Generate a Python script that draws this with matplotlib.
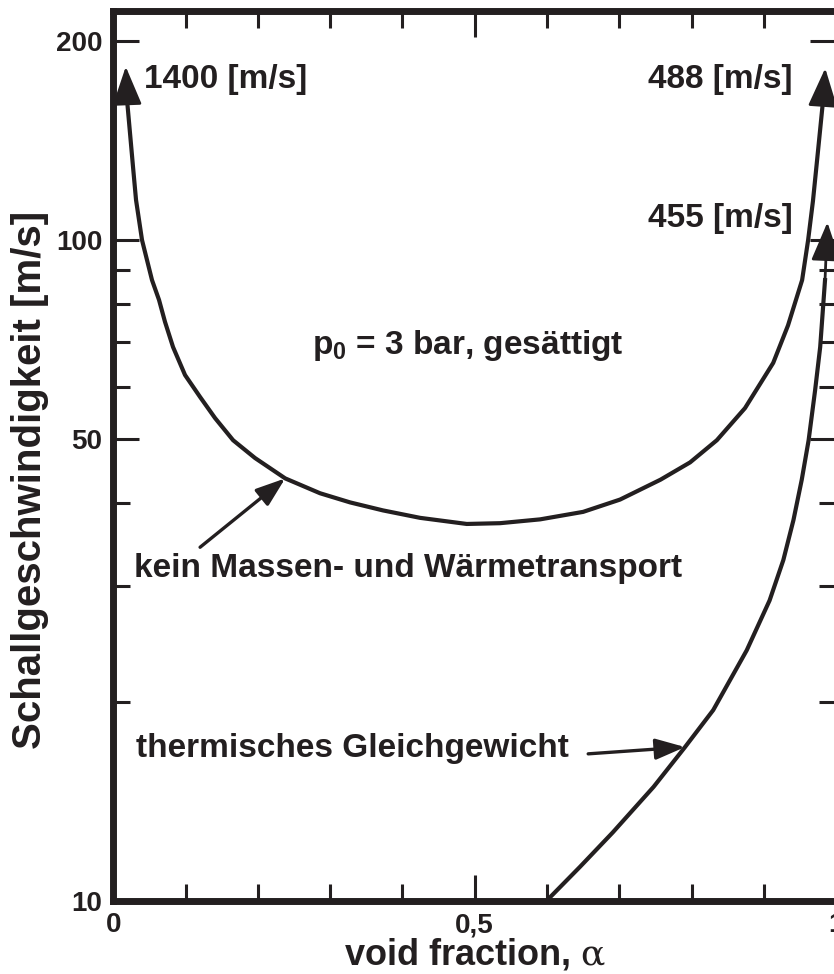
import matplotlib
matplotlib.use('Agg')
import matplotlib.pyplot as plt
from matplotlib.ticker import FixedLocator, FixedFormatter, NullFormatter

plt.rcParams['font.family'] = ['Liberation Sans', 'DejaVu Sans']
plt.rcParams['font.weight'] = 'bold'
plt.rcParams['mathtext.fontset'] = 'custom'
plt.rcParams['mathtext.rm'] = 'DejaVu Serif:weight=normal'
plt.rcParams['mathtext.bf'] = 'Liberation Sans:bold'
plt.rcParams['mathtext.it'] = 'DejaVu Serif:italic:weight=normal'

INK = '#231f20'

# kein Massen- und Wärmetransport (erster und letzter Punkt = Pfeilspitzen)
alpha_frozen = [0.0172, 0.019, 0.0273, 0.0314, 0.0397, 0.0535, 0.0632, 0.0715, 0.0826,
                0.0992, 0.120, 0.1407, 0.1657, 0.1961, 0.2378, 0.286, 0.3276, 0.373,
                0.4244, 0.489, 0.535, 0.5905, 0.650, 0.7011, 0.757, 0.798, 0.835,
                0.874, 0.913, 0.9335, 0.953, 0.9613, 0.968, 0.9751, 0.982, 0.985]
c_frozen = [183, 162.8, 128.8, 115, 100, 87.0, 81.2, 75.2, 68.9,
            62.5, 57.9, 53.8, 49.8, 46.8, 43.6, 41.4, 40.1, 39.0,
            38.0, 37.2, 37.3, 37.8, 38.8, 40.5, 43.4, 46.1, 49.8,
            55.7, 65.2, 74.3, 87.0, 100, 114.6, 136.8, 162.8, 182]

# thermisches Gleichgewicht (letzter Punkt = Pfeilspitze)
alpha_eq = [0.603, 0.6458, 0.691, 0.7476, 0.791, 0.830, 0.8764, 0.908, 0.927, 0.941,
            0.9525, 0.962, 0.971, 0.978, 0.9847, 0.988]
c_eq = [10.1, 11.27, 12.7, 14.89, 17.1, 19.45, 23.96, 28.5, 32.8, 37.7,
        43.4, 49.8, 59.3, 68.9, 87.0, 106.4]
eq_arrow_at = 4  # Punkt, auf den der Pfeil "thermisches Gleichgewicht" zeigt
frozen_arrow_at = 14

y_major = [10, 50, 100, 200]
y_minor = [20, 30, 40, 60, 70, 80, 90]
x_major = [0, 0.5, 1]
x_major_labels = ['0', '0,5', '1']
x_minor = [0.1, 0.2, 0.3, 0.4, 0.6, 0.7, 0.8, 0.9]

fig = plt.figure(figsize=(8.34, 9.74), dpi=100)
ax = fig.add_axes([0.1359, 0.0749, 0.8666, 0.9136])
ax.set_yscale('log')
ax.set_xlim(0, 1)
ax.set_ylim(10, 222)

ax.plot(alpha_frozen[1:-1], c_frozen[1:-1], color=INK, lw=3, solid_joinstyle='round')
ax.plot(alpha_eq[:-1], c_eq[:-1], color=INK, lw=3, solid_joinstyle='round')

big_head = dict(arrowstyle='-|>,head_length=1.0,head_width=0.38', mutation_scale=24,
                color=INK, lw=2, shrinkA=0, shrinkB=0)
ax.annotate('', xy=(alpha_frozen[0], c_frozen[0]), xytext=(alpha_frozen[1], c_frozen[1]),
            arrowprops=big_head)
ax.annotate('', xy=(alpha_frozen[-1], c_frozen[-1]), xytext=(alpha_frozen[-2], c_frozen[-2]),
            arrowprops=big_head)
ax.annotate('', xy=(alpha_eq[-1], c_eq[-1]), xytext=(alpha_eq[-2], c_eq[-2]),
            arrowprops=big_head)

small_head = dict(arrowstyle='-|>,head_length=0.9,head_width=0.32', mutation_scale=20,
                  color=INK, lw=2.4, shrinkA=0, shrinkB=0)
ax.annotate('', xy=(alpha_frozen[frozen_arrow_at], c_frozen[frozen_arrow_at]),
            xytext=(0.120, 34.3), arrowprops=small_head)
ax.annotate('', xy=(alpha_eq[eq_arrow_at], c_eq[eq_arrow_at]), xytext=(0.657, 16.7),
            arrowprops=small_head)

fs = 24
ax.text(0.042, 170, '1400 [m/s]', fontsize=fs, color=INK, va='baseline')
ax.text(0.740, 170, '488 [m/s]', fontsize=fs, color=INK, va='baseline')
ax.text(0.740, 104.6, '455 [m/s]', fontsize=fs, color=INK, va='baseline')
ax.text(0.275, 67.2, r'$\mathbf{p}_\mathbf{0}$ = 3 bar, gesättigt', fontsize=fs, color=INK,
        va='baseline')
ax.text(0.029, 30.9, 'kein Massen- und Wärmetransport', fontsize=fs, color=INK, va='baseline')
ax.text(0.031, 16.5, 'thermisches Gleichgewicht', fontsize=fs, color=INK, va='baseline')

ax.yaxis.set_major_locator(FixedLocator(y_major))
ax.yaxis.set_major_formatter(FixedFormatter([str(v) for v in y_major]))
ax.yaxis.set_minor_locator(FixedLocator(y_minor))
ax.yaxis.set_minor_formatter(NullFormatter())
ax.xaxis.set_major_locator(FixedLocator(x_major))
ax.xaxis.set_major_formatter(FixedFormatter(x_major_labels))
ax.xaxis.set_minor_locator(FixedLocator(x_minor))

ax.tick_params(which='both', direction='in', top=True, right=True, color=INK,
               labelcolor=INK, width=2.2, labelsize=20, pad=8)
ax.tick_params(which='major', length=18.5)
ax.tick_params(which='minor', length=12)
for sp in ax.spines.values():
    sp.set_linewidth(5)
    sp.set_color(INK)

fig.text(475 / 834, 1 - 955 / 974, r'void fraction, $\mathrm{\alpha}$', fontsize=26,
         color=INK, ha='center', va='center')
fig.text(30 / 834, 1 - 480 / 974, 'Schallgeschwindigkeit [m/s]', fontsize=29, color=INK,
         ha='center', va='center', rotation=90)

fig.savefig('out.png', dpi=100)
